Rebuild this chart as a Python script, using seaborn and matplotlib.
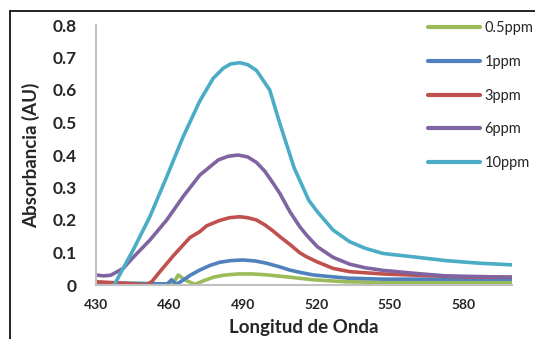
import numpy as np
import pandas as pd
import matplotlib
matplotlib.use("Agg")
import matplotlib.pyplot as plt
import seaborn as sns
from matplotlib.lines import Line2D

# --- data ---
series_names = ["0.5ppm", "1ppm", "3ppm", "6ppm", "10ppm"]

x_05 = [430, 445, 460, 461.5, 463.6, 466.3, 470.4, 474, 478, 482, 488, 494, 500, 509.2, 518.7, 532, 546, 600]
y_05 = [0.006, 0.005, 0.003, 0.004, 0.031, 0.016, 0.002, 0.013, 0.024, 0.030, 0.034, 0.034, 0.031, 0.024, 0.016, 0.010, 0.008, 0.007]

x_1 = [430, 445, 459, 460.9, 462.9, 465.6, 468.5, 472.4, 476.5, 480.6, 485, 490, 495, 499.7, 505, 509.2, 513.3, 518.7, 526.9, 533, 547.3, 600]
y_1 = [0.007, 0.005, 0.003, 0.016, 0.002, 0.015, 0.030, 0.046, 0.060, 0.070, 0.075, 0.077, 0.074, 0.067, 0.056, 0.046, 0.039, 0.031, 0.025, 0.021, 0.018, 0.018]

x_3 = [430, 440, 450.7, 453, 456.1, 461.6, 468.4, 472.4, 475.2, 480.3, 484.5, 488.8, 492, 495.6, 499, 502.4, 505.1, 509.2, 513.3, 516, 520.4, 526.9, 533.7, 547.3, 561.6, 580, 600]
y_3 = [0.010, 0.006, 0.000, 0.012, 0.041, 0.090, 0.146, 0.164, 0.182, 0.198, 0.207, 0.210, 0.207, 0.200, 0.185, 0.166, 0.149, 0.125, 0.099, 0.087, 0.071, 0.051, 0.041, 0.034, 0.030, 0.025, 0.024]

x_6 = [430, 433, 436, 441.1, 445.2, 452, 458.9, 465.6, 472.4, 480, 484, 488, 492, 495.6, 499, 502.4, 505.1, 509.2, 513.3, 516, 520.4, 526.9, 533.7, 540, 547.3, 561.6, 573, 600]
y_6 = [0.031, 0.028, 0.030, 0.051, 0.085, 0.138, 0.200, 0.272, 0.338, 0.385, 0.396, 0.400, 0.394, 0.377, 0.350, 0.313, 0.282, 0.226, 0.179, 0.154, 0.118, 0.085, 0.064, 0.053, 0.045, 0.035, 0.028, 0.024]

x_10 = [430, 437.1, 441, 445.2, 452, 458.9, 465.6, 472.4, 477.9, 482, 485, 488.8, 492, 495.6, 501, 505, 508, 511, 514, 517, 520.5, 526.9, 533.7, 540, 547.3, 561.6, 573, 586.7, 600]
y_10 = [-0.030, -0.005, 0.050, 0.108, 0.210, 0.333, 0.456, 0.566, 0.636, 0.667, 0.680, 0.684, 0.678, 0.660, 0.600, 0.500, 0.430, 0.360, 0.310, 0.260, 0.225, 0.169, 0.133, 0.113, 0.097, 0.085, 0.075, 0.067, 0.062]

colors = ["#9BBB59", "#4F81BD", "#C0504D", "#8064A2", "#4BACC6"]

xs = [x_05, x_1, x_3, x_6, x_10]
ys = [y_05, y_1, y_3, y_6, y_10]
frames = []
for name, xv, yv in zip(series_names, xs, ys):
    frames.append(pd.DataFrame({"Longitud": xv, "Abs": yv, "Serie": name}))
df = pd.concat(frames, ignore_index=True)

sns.set_style("white")
plt.rcParams["font.family"] = ["Lato", "DejaVu Sans"]

W, H = 535, 339
fig = plt.figure(figsize=(W / 100, H / 100), dpi=100)
ax = fig.add_axes([96 / W, 1 - 285 / H, (512 - 96) / W, (285 - 25) / H])

sns.lineplot(data=df, x="Longitud", y="Abs", hue="Serie", hue_order=series_names,
             palette=colors, sort=False, estimator=None, linewidth=2.6, ax=ax)
for ln in ax.get_lines():
    ln.set_solid_joinstyle("round")

ax.set_xlim(430, 600)
ax.set_ylim(0, 0.8)
ax.set_xticks([430, 460, 490, 520, 550, 580])
ax.set_yticks([0, 0.1, 0.2, 0.3, 0.4, 0.5, 0.6, 0.7, 0.8])
ax.set_yticklabels(["0", "0.1", "0.2", "0.3", "0.4", "0.5", "0.6", "0.7", "0.8"])
ax.tick_params(axis="y", labelsize=12.5, length=0, pad=14)
ax.tick_params(axis="x", labelsize=10, length=0, pad=10)
for lab in ax.get_xticklabels() + ax.get_yticklabels():
    lab.set_fontweight("bold")

for side in ["top", "right"]:
    ax.spines[side].set_visible(False)
for side in ["left", "bottom"]:
    ax.spines[side].set_color("#c0c0c0")
    ax.spines[side].set_linewidth(1.5)

ax.set_xlabel("Longitud de Onda", fontsize=13.5, fontweight="bold", labelpad=6)
ax.set_ylabel("Absorbancia (AU)", fontsize=13.5, fontweight="bold")
ax.yaxis.set_label_coords(-0.135, 0.5)

ax.legend(loc="upper left", bbox_to_anchor=(422 / W, 1 - 15.5 / H), bbox_transform=fig.transFigure,
          frameon=False, fontsize=10.5, handlelength=3.55, handletextpad=0.32,
          labelspacing=1.35, borderaxespad=0)
for ln in ax.get_legend().get_lines():
    ln.set_linewidth(3)
    ln.set_solid_capstyle("round")

# outer frame lines (top and left)
fig.add_artist(Line2D([10 / W, 1], [1 - 11 / H, 1 - 11 / H], color="black", lw=1.2, transform=fig.transFigure))
fig.add_artist(Line2D([10 / W, 10 / W], [0, 1 - 11 / H], color="black", lw=1.2, transform=fig.transFigure))

fig.savefig("out.png", dpi=100)
